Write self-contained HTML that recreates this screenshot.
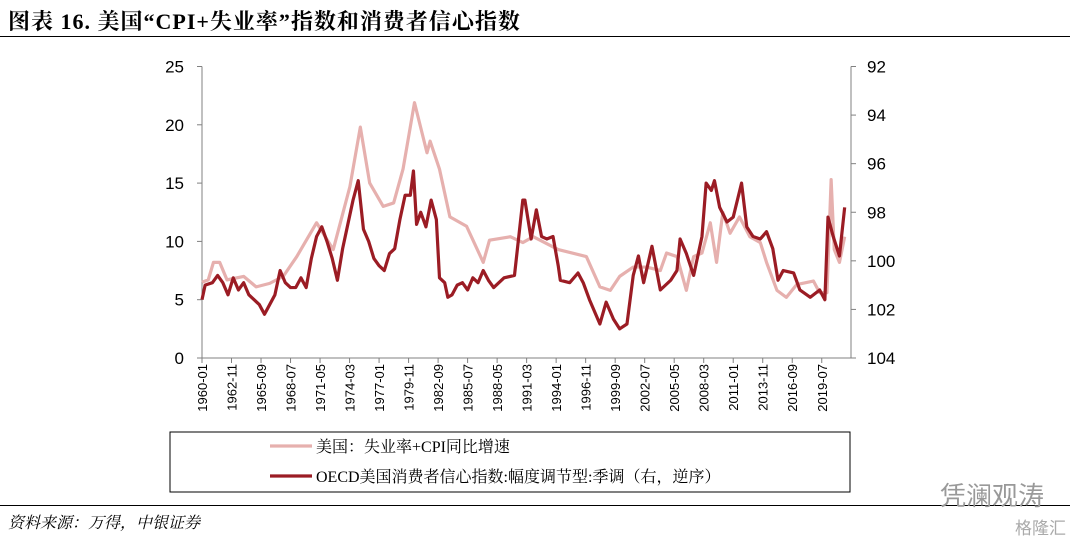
<!DOCTYPE html>
<html><head><meta charset="utf-8"><style>
body{margin:0;width:1080px;height:541px;background:#fff;overflow:hidden;position:relative;font-family:"Liberation Sans","Noto Sans CJK SC",sans-serif}
.t{position:absolute}
</style></head><body>
<div class="t" style="left:8px;top:5px;font:bold 22px 'Liberation Serif','Noto Serif CJK SC',serif;letter-spacing:1px;color:#000">图表 16. 美国“CPI+失业率”指数和消费者信心指数</div>
<div class="t" style="left:0;top:36px;width:1070px;height:1px;background:#000"></div>
<svg class="t" style="left:0;top:0" width="1080" height="541" id="chart"></svg>
<div class="t" style="left:0;top:505px;width:1070px;height:1px;background:#000"></div>
<div class="t" style="left:8px;top:510px;font:italic 16px 'Liberation Serif','Noto Serif CJK SC',serif">资料来源：万得，中银证券</div>
<div class="t" style="left:940px;top:476px;font-size:26px;color:#999">凭澜观涛</div>
<div class="t" style="left:1015px;top:514px;font-size:17px;color:#aaa">格隆汇</div>
<script>
const xLabels=["1960-01","1962-11","1965-09","1968-07","1971-05","1974-03","1977-01","1979-11","1982-09","1985-07","1988-05","1991-03","1994-01","1996-11","1999-09","2002-07","2005-05","2008-03","2011-01","2013-11","2016-09","2019-07"];
const leftTicks=[0,5,10,15,20,25];
const rightTicks=[92,94,96,98,100,102,104];
const pinkYears=[1960.0,1960.6,1961.1,1961.7,1962.4,1964.0,1965.2,1966.5,1967.8,1969.1,1971.0,1972.6,1974.2,1975.2,1976.1,1977.4,1978.4,1979.3,1980.4,1981.6,1981.9,1982.8,1983.8,1985.4,1987.0,1987.6,1989.6,1990.8,1991.8,1994.2,1996.9,1998.2,1999.2,2000.1,2001.4,2002.7,2004.0,2004.6,2005.6,2006.5,2007.2,2008.0,2008.8,2009.4,2010.0,2010.7,2011.6,2012.6,2013.6,2014.2,2015.2,2016.1,2017.1,2018.7,2019.3,2020.0,2020.4,2020.7,2021.2,2021.7];
const pinkValues=[6.5,6.7,8.2,8.2,6.7,7.0,6.1,6.4,7.0,8.7,11.6,9.3,14.7,19.8,15.0,13.0,13.3,16.2,21.9,17.6,18.6,16.2,12.1,11.3,8.2,10.1,10.4,9.9,10.4,9.3,8.7,6.1,5.8,7.0,7.8,7.8,7.5,9.0,8.7,5.8,8.7,9.0,11.6,8.2,12.5,10.7,12.1,10.4,9.9,8.2,5.8,5.2,6.3,6.6,5.6,5.6,15.3,9.3,8.2,10.4];
const darkYears=[1960.0,1960.3,1961,1961.5,1962,1962.5,1963,1963.5,1964,1964.5,1965,1965.5,1966,1966.5,1967,1967.5,1968,1968.5,1969,1969.5,1970,1970.5,1971,1971.5,1972,1972.5,1973,1973.5,1974,1974.5,1975,1975.5,1976,1976.5,1977,1977.5,1978,1978.5,1979,1979.5,1980,1980.3,1980.6,1981,1981.5,1982,1982.5,1982.8,1983.3,1983.6,1984,1984.5,1985,1985.5,1986,1986.5,1987,1987.5,1988,1988.5,1989,1990,1990.8,1991.0,1991.6,1992.1,1992.6,1993.1,1993.7,1994.2,1994.4,1995.3,1996.1,1996.6,1997.2,1998.2,1998.8,1999.5,2000.1,2000.8,2001.4,2001.9,2002.4,2003.2,2004.0,2005.0,2005.6,2005.9,2006.5,2007.2,2008.0,2008.4,2008.9,2009.2,2009.7,2010.4,2011.0,2011.8,2012.3,2012.9,2013.6,2014.2,2014.8,2015.3,2015.8,2016.8,2017.4,2018.4,2019.3,2019.8,2020.1,2020.6,2021.2,2021.7];
const darkValues=[101.6,101.0,100.9,100.6,100.9,101.4,100.7,101.2,100.9,101.4,101.6,101.8,102.2,101.8,101.4,100.4,100.9,101.1,101.1,100.7,101.1,99.9,99.0,98.6,99.2,99.9,100.8,99.5,98.5,97.5,96.7,98.7,99.2,99.9,100.2,100.4,99.7,99.5,98.3,97.3,97.3,96.3,98.5,98.0,98.6,97.5,98.3,100.7,100.9,101.5,101.4,101.0,100.9,101.2,100.7,100.9,100.4,100.8,101.1,100.9,100.7,100.6,97.5,97.5,99.1,97.9,99.0,99.1,99.0,100.2,100.8,100.9,100.5,100.9,101.6,102.6,101.7,102.4,102.8,102.6,100.6,99.8,100.9,99.4,101.2,100.8,100.4,99.1,99.7,100.6,99.0,96.8,97.1,96.7,97.8,98.4,98.2,96.8,98.6,99.0,99.1,98.8,99.5,100.8,100.4,100.5,101.2,101.5,101.2,101.6,98.2,99.0,99.8,97.8];

const svg=document.getElementById('chart');const NS='http://www.w3.org/2000/svg';
const X0=202,X1=851,YT=66.5,YB=358;
const xs=y=>X0+(y-1960)*12*0.868;
const yl=v=>YB-(v/25)*(YB-YT);
const yr=v=>YT+(v-92)/12*(YB-YT);
function mk(tag,at){const e=document.createElementNS(NS,tag);for(const k in at)e.setAttribute(k,at[k]);svg.appendChild(e);return e;}
let e;
e=mk('line',{x1:X0,y1:YT,x2:X0,y2:YB,stroke:'#808080'});


e=mk('line',{x1:X1,y1:YT,x2:X1,y2:YB,stroke:'#808080'});


e=mk('line',{x1:X0,y1:YB,x2:X1,y2:YB,stroke:'#808080'});


leftTicks.forEach(v=>{mk('line',{x1:X0-5,x2:X0,y1:yl(v),y2:yl(v),stroke:'#808080'});
 e=mk('text',{x:X0-18,y:yl(v)+6,'text-anchor':'end','font-size':17,fill:'#000'});e.textContent=v;
 
 });
rightTicks.forEach(v=>{mk('line',{x1:X1,x2:X1+5,y1:yr(v),y2:yr(v),stroke:'#808080'});
 e=mk('text',{x:X1+16,y:yr(v)+6,'font-size':17,fill:'#000'});e.textContent=v;
 
 });
xLabels.forEach((l,i)=>{const yy=+l.slice(0,4)+(+l.slice(5)-1)/12;const x=xs(yy);
 mk('line',{x1:x,x2:x,y1:YB,y2:YB+5,stroke:'#808080'});
 e=mk('text',{x:0,y:0,transform:`translate(${x+5},${YB+6}) rotate(-90)`,'text-anchor':'end','font-size':13,fill:'#000'});e.textContent=l;
 
 });
e=mk('polyline',{points:pinkYears.map((y,i)=>xs(y)+','+yl(pinkValues[i])).join(' '),fill:'none',stroke:'#e6b0ae','stroke-width':3.2,'stroke-linejoin':'round'});


e=mk('polyline',{points:darkYears.map((y,i)=>xs(y)+','+yr(darkValues[i])).join(' '),fill:'none',stroke:'#9b1c24','stroke-width':3.2,'stroke-linejoin':'round'});


e=mk('rect',{x:170,y:432,width:680,height:60,fill:'none',stroke:'#000','stroke-width':1});


mk('line',{x1:270,x2:312,y1:446,y2:446,stroke:'#e6b0ae','stroke-width':3.2});
e=mk('text',{x:316,y:452,'font-size':16,fill:'#000','font-family':'Liberation Serif,Noto Serif CJK SC,serif'});e.textContent='美国：失业率+CPI同比增速';


mk('line',{x1:270,x2:312,y1:476,y2:476,stroke:'#9b1c24','stroke-width':3.2});
e=mk('text',{x:316,y:482,'font-size':16,fill:'#000','font-family':'Liberation Serif,Noto Serif CJK SC,serif'});e.textContent='OECD美国消费者信心指数:幅度调节型:季调（右，逆序）';


</script>
</body></html>
